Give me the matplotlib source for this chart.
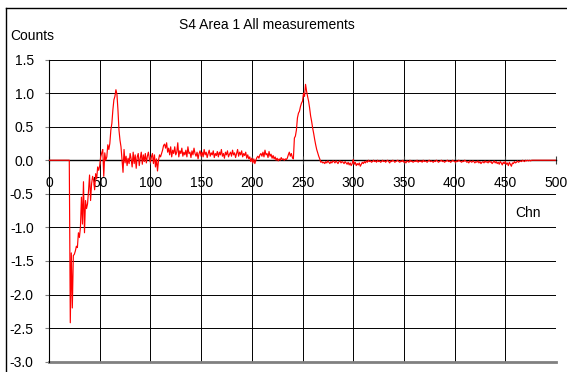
import numpy as np
import matplotlib
matplotlib.use('Agg')
import matplotlib.pyplot as plt
from matplotlib.lines import Line2D

plt.rcParams['font.family'] = ['Liberation Sans', 'DejaVu Sans']

# channel numbers 0..500, one count value per channel
chn = np.arange(0, 501)
counts = [0.0] * 21 + [
    -2.42, -1.38, -2.20, -1.42, -1.40, -1.35, -1.28, -1.30, -1.08, -1.15,
    -1.00, -0.55, -0.95, -0.32, -1.08, -0.60, -0.72, -0.65, -0.45, -0.22,
    -0.60, -0.35, -0.24, -0.30, -0.44, -0.20, -0.28, -0.10, -0.15, -0.08,
    0.05, 0.11, 0.16, -0.24, 0.11, 0.00, 0.05, 0.23, 0.16, 0.25,
    0.45, 0.55, 0.75, 0.90, 0.95, 1.05, 0.98, 0.75, 0.45, 0.30,
    0.20, 0.00, -0.18, 0.16, -0.04, 0.06, -0.08, 0.03, -0.05, 0.10,
    0.02, -0.10, 0.12, -0.05, 0.08, -0.12, 0.05, 0.10, -0.08, 0.03,
    0.12, -0.06, 0.08, -0.02, 0.10, -0.04, 0.06, 0.12, 0.02, -0.03,
    0.05, 0.10, -0.05, 0.08, -0.10, 0.02, -0.16, 0.00, 0.08, 0.05,
    0.10, 0.15, 0.22, 0.24, 0.18, 0.26, 0.12, 0.18, 0.08, 0.20,
    0.05, 0.15, 0.10, 0.20, 0.08, 0.12, 0.26, 0.05, 0.14, 0.10,
    0.18, 0.06, 0.12, 0.08, 0.15, 0.05, 0.20, 0.10, 0.12, 0.04,
    0.14, 0.08, 0.18, 0.10, 0.06, 0.12, 0.02, 0.10, 0.14, 0.06,
    0.12, 0.05, 0.16, 0.08, 0.12, 0.04, 0.10, 0.15, 0.06, 0.11,
    0.08, 0.14, 0.04, 0.10, 0.07, 0.13, 0.05, 0.12, 0.08, 0.16,
    0.06, 0.10, 0.03, 0.12, 0.08, 0.14, 0.05, 0.09, 0.12, 0.06,
    0.15, 0.08, 0.11, 0.04, 0.10, 0.16, 0.06, 0.12, 0.08, 0.14,
    0.05, 0.10, 0.07, 0.12, 0.03, 0.08, 0.02, 0.05, -0.02, 0.03,
    -0.04, 0.02, -0.05, 0.00, 0.04, 0.06, 0.03, 0.08, 0.10, 0.06,
    0.12, 0.05, 0.15, 0.08, 0.10, 0.04, 0.13, 0.06, 0.09, 0.03,
    0.07, 0.02, 0.05, 0.00, 0.03, -0.01, 0.02, 0.00, 0.04, 0.01,
    0.02, 0.00, 0.02, 0.01, 0.03, 0.08, 0.12, 0.06, 0.10, 0.04,
    0.02, 0.33, 0.36, 0.45, 0.63, 0.70, 0.73, 0.80, 0.85, 0.88,
    1.00, 0.95, 1.13, 1.03, 0.95, 0.88, 0.78, 0.66, 0.58, 0.48,
    0.40, 0.31, 0.23, 0.16, 0.11, 0.06, 0.02, -0.03, -0.02, -0.04,
    -0.03, -0.05, -0.02, -0.04, -0.01, -0.03, -0.05, -0.02, -0.04, -0.01,
    -0.02, -0.04, -0.01, -0.03, -0.05, -0.02, -0.01, -0.04, -0.02, -0.03,
    -0.05, -0.02, -0.04, -0.06, -0.03, -0.07, -0.04, -0.08, -0.05, 0.01,
    -0.06, -0.03, -0.08, -0.05, -0.07, -0.04, -0.09, -0.06, -0.03, -0.05,
    -0.02, -0.04, -0.01, -0.03, 0.00, -0.02, -0.01, -0.03, -0.02, 0.00,
    -0.02, -0.01, -0.03, 0.00, -0.02, -0.01, -0.03, -0.02, 0.00, -0.02,
    -0.01, -0.03, -0.01, 0.00, -0.02, -0.04, -0.01, -0.02, 0.00, -0.01,
    -0.03, -0.02, -0.01, 0.00, -0.02, -0.03, -0.01, -0.02, 0.00, -0.03,
    -0.02, -0.04, -0.01, -0.02, -0.03, 0.00, -0.02, -0.01, -0.03, -0.02,
    -0.01, -0.02, 0.00, -0.03, -0.01, -0.02, -0.01, -0.03, 0.00, -0.02,
    -0.01, -0.02, -0.03, -0.01, 0.00, -0.02, -0.01, -0.02, -0.03, -0.01,
    -0.02, 0.00, -0.01, -0.03, -0.02, -0.01, 0.00, -0.02, -0.01, -0.03,
    -0.02, -0.01, 0.00, -0.02, -0.01, -0.03, -0.02, 0.00, -0.01, -0.02,
    -0.03, -0.01, -0.02, 0.00, -0.01, -0.02, -0.03, -0.01, -0.02, 0.00,
    -0.01, -0.03, -0.02, -0.04, -0.01, -0.02, -0.03, -0.01, -0.02, -0.04,
    -0.02, -0.03, -0.01, -0.04, -0.02, -0.05, -0.03, -0.02, -0.04, -0.01,
    -0.03, -0.02, -0.04, -0.01, -0.03, -0.02, -0.05, -0.03, -0.01, -0.04,
    -0.02, -0.05, -0.03, -0.06, -0.02, -0.04, -0.07, -0.03, -0.05, -0.02,
    -0.06, -0.04, -0.08, -0.03, -0.06, -0.09, -0.04, -0.05, -0.02, -0.04,
    -0.03, -0.01, -0.03, -0.02, -0.01, -0.02, 0.00, -0.01, -0.02, 0.00,
    -0.01, 0.00, -0.01, 0.00, -0.01, 0.00,
] + [0.0] * 24

xticks = [0, 50, 100, 150, 200, 250, 300, 350, 400, 450, 500]
yticks = [-3.0, -2.5, -2.0, -1.5, -1.0, -0.5, 0.0, 0.5, 1.0, 1.5]

fig = plt.figure(figsize=(5.67, 3.72), dpi=100)
ax = fig.add_axes([49/567, 1-361.7/372, 507/567, 302.2/372])

ax.plot(chn, counts, color='#FF0000', lw=0.85, zorder=3)

ax.set_xlim(0, 500)
ax.set_ylim(-3.0, 1.5)
ax.set_xticks(xticks)
ax.set_yticks(yticks)
ax.set_yticklabels(['%.1f' % v for v in yticks], fontsize=10)
ax.set_xticklabels([str(v) for v in xticks], fontsize=10)
ax.grid(True, color='black', lw=0.7)

# x axis crosses at zero
ax.spines['bottom'].set_position(('data', 0))
ax.spines['bottom'].set_color('black')
ax.spines['bottom'].set_linewidth(1.0)
ax.spines['top'].set_visible(False)
ax.spines['right'].set_visible(False)
ax.spines['left'].set_color('black')
ax.axhline(-3.0, color='#808080', lw=2.0, clip_on=False, zorder=2)

ax.tick_params(axis='x', direction='inout', length=6, color='#404040', pad=8)
ax.tick_params(axis='y', direction='out', length=3, color='#808080', pad=8)

ax.text(0.945, 0.492, 'Chn', transform=ax.transAxes, ha='center', va='center', fontsize=10)
fig.text(267/567, 1-25/372, 'S4 Area 1 All measurements', ha='center', va='center', fontsize=10)
fig.text(10/567, 1-36/372, 'Counts', ha='left', va='center', fontsize=10)

# outer chart border (left and top edges visible)
fig.add_artist(Line2D([6/567, 6/567], [0, 1-8/372], transform=fig.transFigure, color='black', lw=1.0))
fig.add_artist(Line2D([6/567, 1], [1-8/372, 1-8/372], transform=fig.transFigure, color='black', lw=1.0))

fig.savefig('out.png', dpi=100)
